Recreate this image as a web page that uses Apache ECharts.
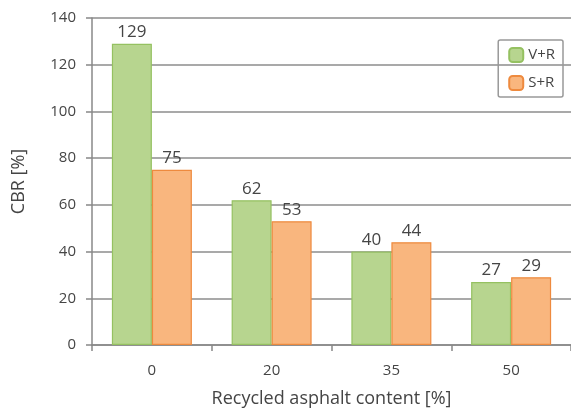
<!DOCTYPE html>
<html><head><meta charset="utf-8">
<script src="https://cdn.jsdelivr.net/npm/echarts@6/dist/echarts.min.js"></script>
<style>html,body{margin:0;padding:0;background:#fff}#c{width:571px;height:413px}</style>
</head><body><div id="c"></div>
<script>
const categories = ['0', '20', '35', '50'];
const seriesNames = ['V+R', 'S+R'];
const vrValues = [129, 62, 40, 27];
const srValues = [75, 53, 44, 29];
const yTicks = [0, 20, 40, 60, 80, 100, 120, 140];

const chart = echarts.init(document.getElementById('c'));
const txt = '#454545';
const font = 'Open Sans';
chart.setOption({
  animation: false,
  textStyle: {fontFamily: font},
  grid: {left: 92, right: -1, top: 18, bottom: 65},
  legend: {
    right: 8, top: 40, orient: 'vertical',
    itemWidth: 14, itemHeight: 14, itemGap: 12,
    padding: [7, 8, 6, 10],
    borderColor: '#999', borderWidth: 1.5, borderRadius: 2,
    textStyle: {color: txt, fontSize: 15, fontFamily: font},
    data: seriesNames
  },
  xAxis: {
    type: 'category', data: categories,
    name: 'Recycled asphalt content [%]', nameLocation: 'middle', nameGap: 45,
    nameTextStyle: {color: txt, fontSize: 18, fontFamily: font},
    axisLine: {lineStyle: {color: '#888', width: 1.5}},
    axisTick: {show: true, alignWithLabel: false, length: 6, lineStyle: {color: '#888', width: 1.5}},
    axisLabel: {color: txt, fontSize: 15, margin: 18, fontFamily: font}
  },
  yAxis: {
    type: 'value', min: 0, max: 140, interval: 20,
    name: 'CBR [%]', nameLocation: 'middle', nameGap: 64, nameRotate: 90,
    nameTextStyle: {color: txt, fontSize: 18, fontFamily: font},
    axisLine: {show: true, lineStyle: {color: '#888', width: 1.5}},
    axisTick: {show: true, length: 6, lineStyle: {color: '#888', width: 1.5}},
    axisLabel: {color: txt, fontSize: 15, margin: 16, fontFamily: font,
      formatter: v => yTicks.includes(v) ? String(v) : ''},
    splitLine: {lineStyle: {color: '#8c8c8c', width: 1.5}}
  },
  series: [
    {
      name: seriesNames[0], type: 'bar', data: vrValues, barWidth: 40, barGap: '0%',
      itemStyle: {color: '#b7d58f', borderColor: '#95c161', borderWidth: 1.2},
      label: {show: true, position: 'top', color: txt, fontSize: 17, distance: 3, fontFamily: font}
    },
    {
      name: seriesNames[1], type: 'bar', data: srValues, barWidth: 40,
      itemStyle: {color: '#f9b67e', borderColor: '#ee8a3e', borderWidth: 1.2},
      label: {show: true, position: 'top', color: txt, fontSize: 17, distance: 3, fontFamily: font}
    }
  ]
});
</script></body></html>
